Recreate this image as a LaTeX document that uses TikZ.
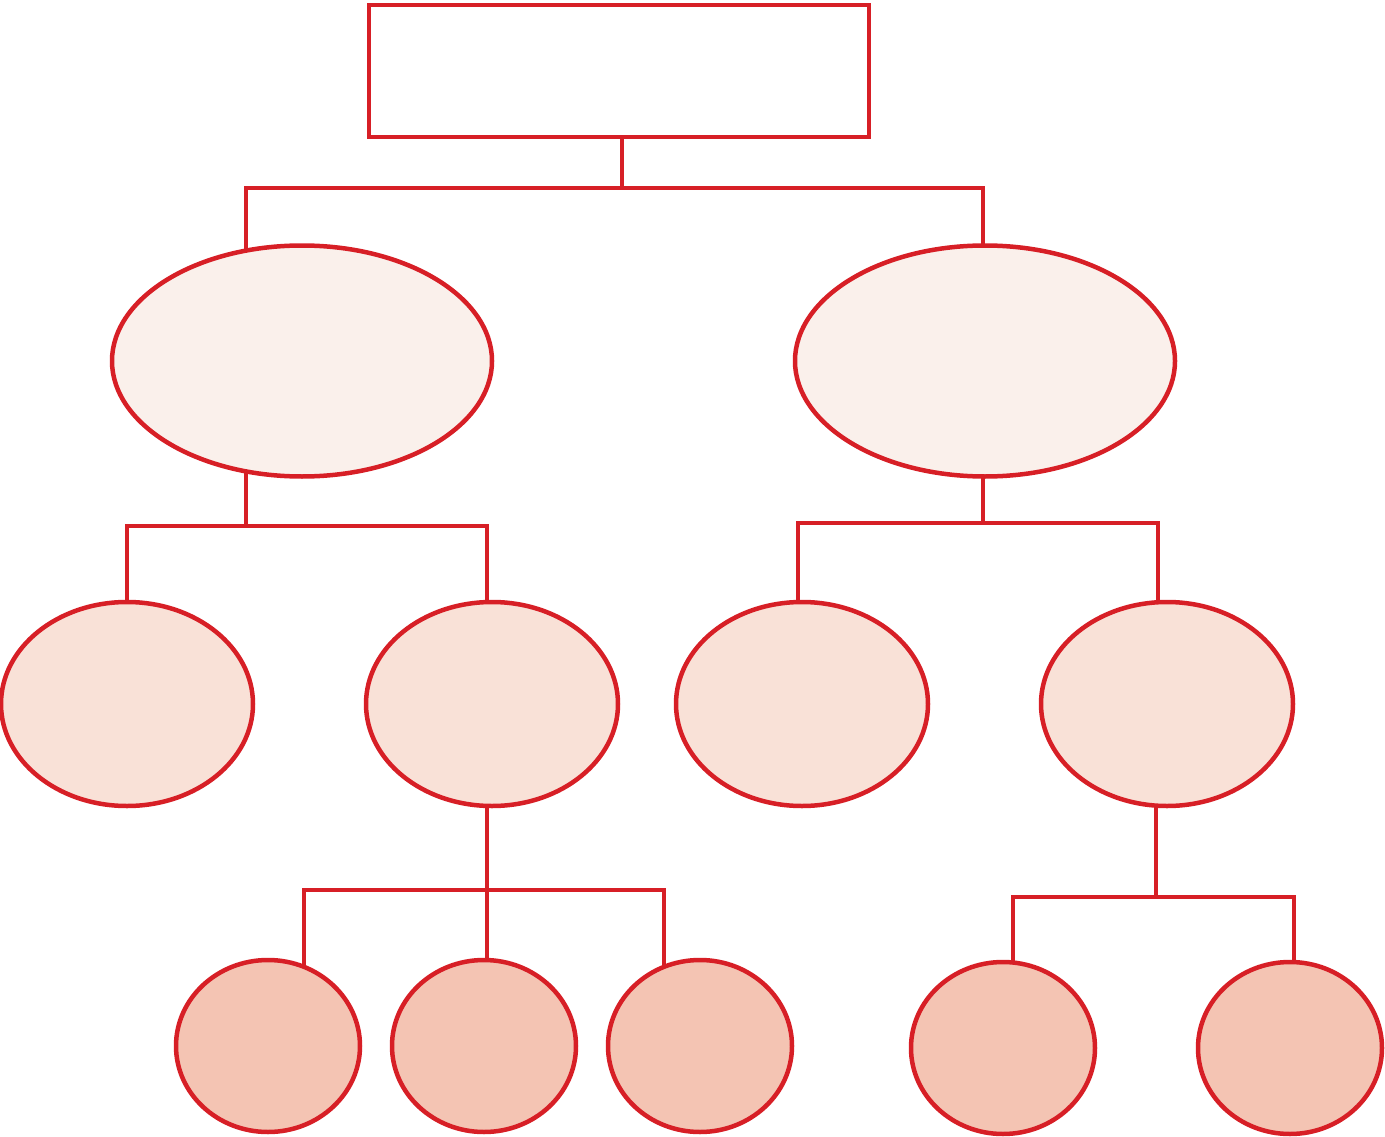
\documentclass[tikz,border=0pt]{standalone}
\usetikzlibrary{shapes.geometric}
\definecolor{redline}{HTML}{D71F26}
\definecolor{fillA}{HTML}{FAF0EB}
\definecolor{fillB}{HTML}{F9E1D7}
\definecolor{fillC}{HTML}{F4C4B3}
\pgfdeclarelayer{bg}
\pgfsetlayers{bg,main}
\tikzset{
  conn/.style={draw=redline, line width=4.5pt},
  rootbox/.style={draw=redline, line width=4.5pt, fill=white, rectangle, inner sep=0pt, minimum width=500pt, minimum height=132pt},
  ellA/.style={draw=redline, line width=4.5pt, fill=fillA, ellipse, inner sep=0pt, minimum width=380pt, minimum height=231pt},
  ellB/.style={draw=redline, line width=4.5pt, fill=fillB, ellipse, inner sep=0pt, minimum width=252pt, minimum height=204pt},
  ellC/.style={draw=redline, line width=4.5pt, fill=fillC, ellipse, inner sep=0pt, minimum width=184pt, minimum height=172pt},
}
\begin{document}
\begin{tikzpicture}[x=1pt,y=-1pt]
\useasboundingbox (0,0) rectangle (1385,1137);
% nodes
\node[rootbox] (root) at (619,71) {};
\node[ellA] (L1a) at (302,361) {};
\node[ellA] (L1b) at (985,361) {};
\node[ellB] (A) at (127,704) {};
\node[ellB] (B) at (492,704) {};
\node[ellB] (C) at (802,704) {};
\node[ellB] (D) at (1167,704) {};
\node[ellC] (E) at (268,1046) {};
\node[ellC] (F) at (484,1046) {};
\node[ellC] (G) at (700,1046) {};
\node[ellC] (H) at (1003,1048) {};
\node[ellC] (I) at (1290,1048) {};
% junction coordinates
\coordinate (r0) at (622,188);
\coordinate (rl) at (246,188);
\coordinate (rr) at (983,188);
\coordinate (a0) at (246,526);
\coordinate (al) at (127,526);
\coordinate (ar) at (487,526);
\coordinate (b0) at (983,523);
\coordinate (bl) at (798,523);
\coordinate (br) at (1158,523);
\coordinate (c0) at (487,890);
\coordinate (cl) at (304,890);
\coordinate (cr) at (664,890);
\coordinate (d0) at (1156,897);
\coordinate (dl) at (1013,897);
\coordinate (dr) at (1294,897);
\begin{pgfonlayer}{bg}
\draw[conn] (r0 |- root.center) -- (r0);
\draw[conn] (rl |- L1a.center) -- (rl) -- (rr) -- (rr |- L1b.center);
\draw[conn] (a0 |- L1a.center) -- (a0);
\draw[conn] (al |- A.center) -- (al) -- (ar) -- (ar |- B.center);
\draw[conn] (b0 |- L1b.center) -- (b0);
\draw[conn] (bl |- C.center) -- (bl) -- (br) -- (br |- D.center);
\draw[conn] (c0 |- B.center) -- (c0 |- F.center);
\draw[conn] (cl |- E.center) -- (cl) -- (cr) -- (cr |- G.center);
\draw[conn] (d0 |- D.center) -- (d0);
\draw[conn] (dl |- H.center) -- (dl) -- (dr) -- (dr |- I.center);
\end{pgfonlayer}
\end{tikzpicture}
\end{document}
